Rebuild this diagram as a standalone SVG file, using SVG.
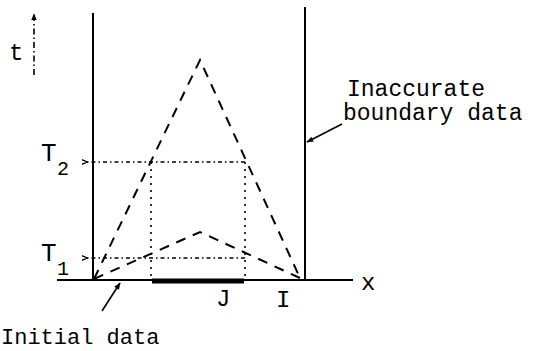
<svg xmlns="http://www.w3.org/2000/svg" width="535" height="351" viewBox="0 0 535 351">
<defs>
<marker id="ah" viewBox="0 0 10 10" refX="9" refY="5" markerWidth="7" markerHeight="7" orient="auto" markerUnits="userSpaceOnUse">
<path d="M0,1 L10,5 L0,9 Z" fill="#000"/>
</marker>
<marker id="tick" viewBox="0 0 10 10" refX="1" refY="5" markerWidth="6" markerHeight="6" orient="auto" markerUnits="userSpaceOnUse">
<path d="M10,1 L0,5 L10,9" fill="none" stroke="#000" stroke-width="2"/>
</marker>
</defs>
<style>
text{font-family:"Liberation Mono","DejaVu Sans Mono",monospace;fill:#000}
.lbl{font-size:24px}
.note{font-size:23px}
.big{font-size:26px}
.sub{font-size:20px}
.solid{stroke:#000;stroke-width:2;fill:none}
.dash{stroke:#000;stroke-width:2;fill:none;stroke-dasharray:10 8}
.dot{stroke:#000;stroke-width:1.6;fill:none;stroke-dasharray:4 3 1.5 3}
.vdot{stroke:#000;stroke-width:1.6;fill:none;stroke-dasharray:2 5}
</style>
<g id="axes">
<line class="solid" x1="93" y1="13" x2="93" y2="280"/>
<line class="solid" x1="305" y1="7" x2="305" y2="280"/>
<line class="solid" x1="57" y1="280" x2="353" y2="280" stroke-width="2.5"/>
<line x1="152" y1="281" x2="244" y2="281" stroke="#000" stroke-width="5"/>
</g>
<g id="triangles">
<polyline class="dash" points="94,279 200,60 300,278"/>
<polyline class="dash" points="94,279 200,232 300,278" stroke-dasharray="9 7"/>
</g>
<g id="rectangles">
<line class="dot" x1="245" y1="162" x2="87" y2="162" marker-end="url(#tick)"/>
<line class="dot" x1="245" y1="258" x2="87" y2="258" marker-end="url(#tick)"/>
<line class="vdot" x1="151" y1="162" x2="151" y2="279"/>
<line class="vdot" x1="245" y1="162" x2="245" y2="279" stroke-dasharray="3 3"/>
</g>
<g id="connectors">
<line x1="34" y1="75" x2="34" y2="14" stroke="#000" stroke-width="1.6" stroke-dasharray="6 3 1.5 3" marker-end="url(#ah)"/>
<line x1="102" y1="311" x2="120" y2="283" stroke="#000" stroke-width="1.6" marker-end="url(#ah)"/>
<line x1="342" y1="124" x2="307" y2="142" stroke="#000" stroke-width="1.6" marker-end="url(#ah)"/>
</g>
<g id="label-t"><text class="lbl" x="9" y="60">t</text></g>
<g id="label-T2"><text class="big" x="41" y="161">T</text><text class="sub" x="57" y="175">2</text></g>
<g id="label-T1"><text class="big" x="41" y="261">T</text><text class="sub" x="57" y="275">1</text></g>
<g id="label-x"><text class="lbl" x="361" y="290">x</text></g>
<g id="label-J"><text class="lbl" x="216" y="306">J</text></g>
<g id="label-I"><text class="lbl" x="276" y="307">I</text></g>
<g id="label-boundary"><text class="note" x="347" y="96">Inaccurate</text><text class="note" x="343" y="120">boundary data</text></g>
<g id="label-initial"><text x="1" y="344" font-size="22">Initial data</text></g>
</svg>
